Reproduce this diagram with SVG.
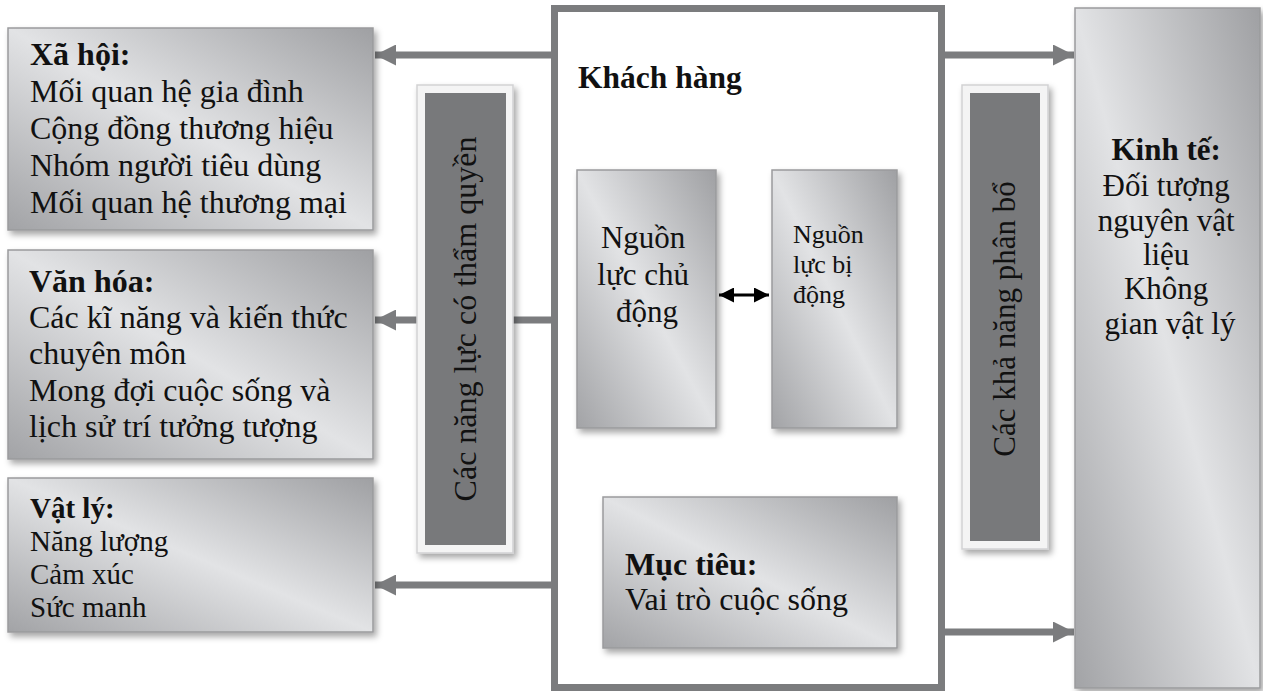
<svg xmlns="http://www.w3.org/2000/svg" width="1263" height="691" viewBox="0 0 1263 691">
<defs>
<linearGradient id="metal" x1="1" y1="0" x2="0" y2="1">
<stop offset="0" stop-color="#9fa0a3"/>
<stop offset="0.5" stop-color="#e2e3e5"/>
<stop offset="1" stop-color="#a2a3a6"/>
</linearGradient>
<filter id="sh" x="-10%" y="-10%" width="125%" height="125%">
<feDropShadow dx="3" dy="4" stdDeviation="3" flood-color="#000" flood-opacity="0.35"/>
</filter>
<marker id="ah" viewBox="0 0 10 10" refX="10" refY="5" markerWidth="3" markerHeight="3" orient="auto" markerUnits="strokeWidth">
<path d="M0,0 L10,5 L0,10 Z" fill="#7b7c7e"/>
</marker>
<marker id="bh" viewBox="0 0 10 10" refX="10" refY="5" markerWidth="5" markerHeight="5" orient="auto-start-reverse" markerUnits="strokeWidth">
<path d="M0,0 L10,5 L0,10 Z" fill="#000"/>
</marker>
</defs>
<style>
.box{fill:url(#metal);stroke:#9a9b9d;stroke-width:1.5;filter:url(#sh)}
.t{font-family:"Liberation Serif","Times New Roman",serif;fill:#111}
.b{font-weight:bold}
.conn{stroke:#7b7c7e;stroke-width:7;fill:none}
.frame{fill:#f4f4f4;stroke:#d2d2d4;stroke-width:1.5;filter:url(#sh)}
.dark{fill:#78797b}
</style>

<g id="connectors">
<line class="conn" x1="552" y1="55" x2="375" y2="55" marker-end="url(#ah)"/>
<line class="conn" x1="552" y1="320" x2="375" y2="320" marker-end="url(#ah)"/>
<line class="conn" x1="552" y1="585" x2="375" y2="585" marker-end="url(#ah)"/>
<line class="conn" x1="944" y1="55" x2="1074" y2="55" marker-end="url(#ah)"/>
<line class="conn" x1="944" y1="632" x2="1074" y2="632" marker-end="url(#ah)"/>
<line x1="719" y1="295" x2="769" y2="295" stroke="#000" stroke-width="3" marker-start="url(#bh)" marker-end="url(#bh)"/>
</g>

<g id="center">
<rect x="554.5" y="8.5" width="387" height="679" fill="none" stroke="#7b7c7e" stroke-width="7"/>
<text class="t b" x="578" y="88" font-size="31.5">Khách hàng</text>
</g>

<g id="xahoi">
<rect class="box" x="8" y="28" width="365" height="202"/>
<text class="t" font-size="32">
<tspan class="b" x="30" y="65">Xã hội:</tspan>
<tspan x="30" y="102">Mối quan hệ gia đình</tspan>
<tspan x="30" y="139">Cộng đồng thương hiệu</tspan>
<tspan x="30" y="176">Nhóm người tiêu dùng</tspan>
<tspan x="30" y="213">Mối quan hệ thương mại</tspan>
</text>
</g>

<g id="vanhoa">
<rect class="box" x="8" y="250" width="365" height="209"/>
<text class="t" font-size="32">
<tspan class="b" x="29" y="292">Văn hóa:</tspan>
<tspan x="29" y="328">Các kĩ năng và kiến thức</tspan>
<tspan x="29" y="364">chuyên môn</tspan>
<tspan x="29" y="401">Mong đợi cuộc sống và</tspan>
<tspan x="29" y="437">lịch sử trí tưởng tượng</tspan>
</text>
</g>

<g id="vatly">
<rect class="box" x="8" y="478" width="365" height="154"/>
<text class="t" font-size="29">
<tspan class="b" x="30" y="518">Vật lý:</tspan>
<tspan x="30" y="551">Năng lượng</tspan>
<tspan x="30" y="584">Cảm xúc</tspan>
<tspan x="30" y="617">Sức manh</tspan>
</text>
</g>

<g id="thamquyen">
<rect class="frame" x="417" y="85" width="96" height="468"/>
<rect class="dark" x="425" y="93" width="81" height="452"/>
<text class="t" font-size="32" text-anchor="middle" transform="translate(476,319) rotate(-90)">Các năng lực có thẩm quyền</text>
</g>

<g id="chudong">
<rect class="box" x="577" y="170" width="139" height="258"/>
<text class="t" font-size="31" text-anchor="middle">
<tspan x="647" y="248">Nguồn</tspan>
<tspan x="647" y="285">lực chủ</tspan>
<tspan x="647" y="322">động</tspan>
</text>
</g>

<g id="bidong">
<rect class="box" x="772" y="170" width="125" height="258"/>
<text class="t" font-size="26">
<tspan x="793" y="243">Nguồn</tspan>
<tspan x="793" y="273">lực bị</tspan>
<tspan x="793" y="303">động</tspan>
</text>
</g>

<g id="muctieu">
<rect class="box" x="603" y="497" width="294" height="151"/>
<text class="t" font-size="32">
<tspan class="b" x="625" y="575">Mục tiêu:</tspan>
<tspan x="625" y="610">Vai trò cuộc sống</tspan>
</text>
</g>

<g id="phanbo">
<rect class="frame" x="962" y="85" width="86" height="464"/>
<rect class="dark" x="970" y="93" width="70" height="448"/>
<text class="t" font-size="31" text-anchor="middle" transform="translate(1015,319) rotate(-90)">Các khả năng phân bổ</text>
</g>

<g id="kinhte">
<rect class="box" x="1075" y="8" width="185" height="680"/>
<text class="t" font-size="31" text-anchor="middle">
<tspan class="b" x="1170" y="160">Kinh tế:</tspan>
<tspan x="1170" y="196">Đối tượng</tspan>
<tspan x="1170" y="231">nguyên vật</tspan>
<tspan x="1170" y="265">liệu</tspan>
<tspan x="1170" y="299">Không</tspan>
<tspan x="1170" y="334">gian vật lý</tspan>
</text>
</g>
</svg>
